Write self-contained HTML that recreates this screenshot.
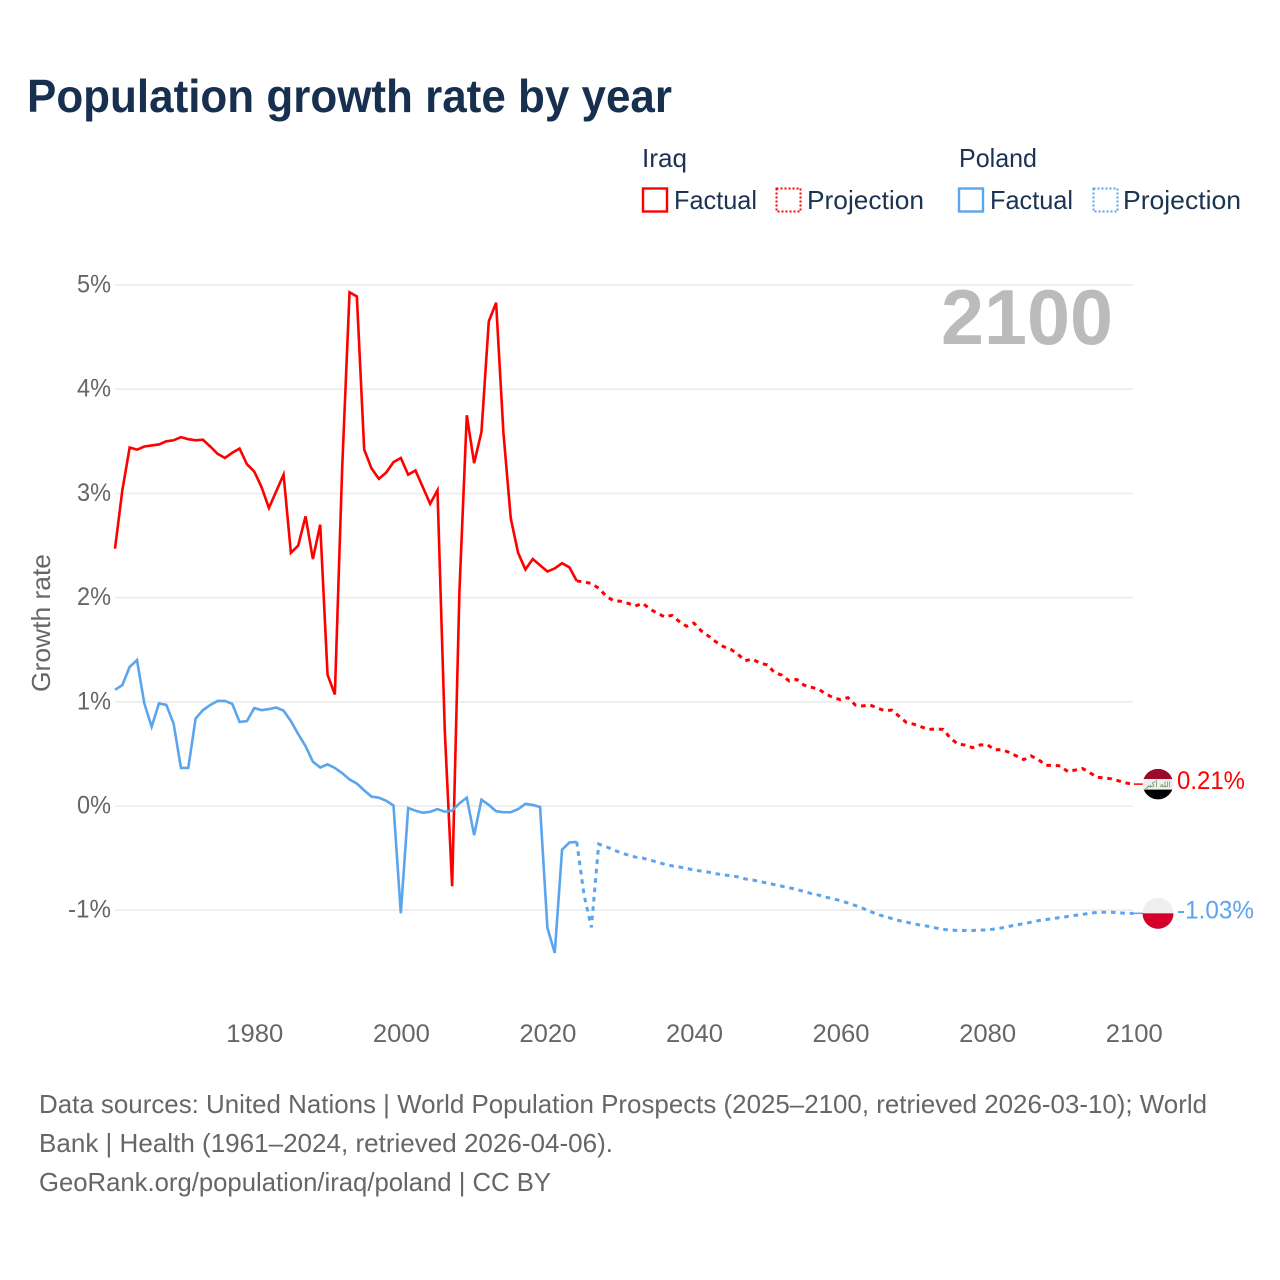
<!DOCTYPE html>
<html lang="en">
<head>
<meta charset="utf-8">
<title>Population growth rate by year</title>
<style>
html,body{margin:0;padding:0;background:#fff;}
svg{display:block;}
text{font-family:"Liberation Sans",sans-serif;}
</style>
</head>
<body>
<svg id="chart" xmlns="http://www.w3.org/2000/svg" width="1280" height="1280" viewBox="0 0 1280 1280">
  <rect x="0" y="0" width="1280" height="1280" fill="#ffffff"/>
  <text x="27" y="112" font-size="46" font-weight="700" fill="#17304f" textLength="645" lengthAdjust="spacingAndGlyphs">Population growth rate by year</text>

  <g font-size="26" fill="#1b3352">
    <text x="642" y="167" textLength="45" lengthAdjust="spacingAndGlyphs">Iraq</text>
    <text x="959" y="167" textLength="78" lengthAdjust="spacingAndGlyphs">Poland</text>
    <g>
      <rect x="643" y="188.5" width="24" height="23" fill="none" stroke="#ff0000" stroke-width="2.4"/>
      <text x="674" y="209" textLength="83" lengthAdjust="spacingAndGlyphs">Factual</text>
    </g>
    <g>
      <rect x="776.5" y="188.5" width="24" height="23" fill="none" stroke="#ff0000" stroke-width="2" stroke-dasharray="2 2"/>
      <text x="807" y="209" textLength="117" lengthAdjust="spacingAndGlyphs">Projection</text>
    </g>
    <g>
      <rect x="959" y="188.5" width="24" height="23" fill="none" stroke="#5ba4ee" stroke-width="2.4"/>
      <text x="990" y="209" textLength="83" lengthAdjust="spacingAndGlyphs">Factual</text>
    </g>
    <g>
      <rect x="1093.5" y="188.5" width="24" height="23" fill="none" stroke="#5ba4ee" stroke-width="2" stroke-dasharray="2 2"/>
      <text x="1123" y="209" textLength="118" lengthAdjust="spacingAndGlyphs">Projection</text>
    </g>
  </g>

  <text transform="translate(50,692) rotate(-90)" font-size="26" fill="#666666" textLength="138" lengthAdjust="spacingAndGlyphs">Growth rate</text>

  <g id="grid"></g>
  <g id="yticks"></g>
  <g id="xticks"></g>

  <text x="1113" y="344" text-anchor="end" font-size="78" font-weight="700" fill="#bbbbbb" textLength="172" lengthAdjust="spacingAndGlyphs">2100</text>

  <g id="series"></g>
  <g id="ends"></g>

  <g font-size="26" fill="#666666">
    <text x="39" y="1113" textLength="1168" lengthAdjust="spacingAndGlyphs">Data sources: United Nations | World Population Prospects (2025–2100, retrieved 2026-03-10); World</text>
    <text x="39" y="1152" textLength="574" lengthAdjust="spacingAndGlyphs">Bank | Health (1961–2024, retrieved 2026-04-06).</text>
    <text x="39" y="1191" textLength="512" lengthAdjust="spacingAndGlyphs">GeoRank.org/population/iraq/poland | CC BY</text>
  </g>
</svg>
<script>
const xTickYears = [1980, 2000, 2020, 2040, 2060, 2080, 2100];
const yTickValues = [5, 4, 3, 2, 1, 0, -1];
const factualStartYear = 1961;
const projectionStartYear = 2024;

const iraqFactual = [2.47,3.03,3.44,3.42,3.45,3.46,3.47,3.50,3.51,3.54,3.52,3.51,3.515,3.45,3.38,3.34,3.39,3.43,3.28,3.21,
  3.06,2.86,3.02,3.18,2.43,2.50,2.78,2.37,2.70,1.26,1.07,3.25,4.93,4.89,3.42,3.24,3.14,3.20,3.30,3.34,
  3.18,3.22,3.06,2.90,3.03,0.72,-0.77,2.07,3.75,3.29,3.59,4.65,4.83,3.58,2.76,2.43,2.27,2.37,2.31,2.25,
  2.28,2.33,2.29,2.16];
const iraqProjection = [2.16,2.15,2.135,2.09,2.015,1.97,1.965,1.945,1.92,1.945,1.89,1.85,1.815,1.83,1.77,1.725,1.755,1.68,1.63,1.575,
  1.53,1.505,1.455,1.395,1.41,1.37,1.355,1.28,1.255,1.20,1.215,1.16,1.14,1.12,1.075,1.04,1.02,1.04,0.97,0.96,
  0.97,0.94,0.915,0.92,0.86,0.80,0.785,0.76,0.735,0.74,0.735,0.65,0.595,0.585,0.56,0.585,0.59,0.54,0.54,0.515,
  0.48,0.445,0.48,0.445,0.39,0.39,0.385,0.33,0.345,0.36,0.32,0.275,0.27,0.26,0.24,0.22,0.21];

const polandFactual = [1.115,1.16,1.335,1.40,0.985,0.76,0.985,0.97,0.79,0.365,0.365,0.84,0.92,0.97,1.008,1.008,0.98,0.806,0.815,0.94,
  0.92,0.93,0.945,0.915,0.815,0.69,0.575,0.425,0.37,0.40,0.365,0.315,0.255,0.215,0.15,0.09,0.08,0.05,0.005,-1.03,
  -0.02,-0.045,-0.065,-0.055,-0.03,-0.055,-0.045,0.025,0.08,-0.28,0.06,0.01,-0.05,-0.06,-0.06,-0.03,0.02,0.01,-0.01,-1.17,
  -1.41,-0.42,-0.35,-0.345];
const polandProjection = [-0.345,-0.855,-1.165,-0.365,-0.39,-0.42,-0.45,-0.47,-0.49,-0.50,-0.52,-0.537,-0.56,-0.575,-0.585,-0.60,-0.614,-0.625,-0.635,-0.65,
  -0.66,-0.67,-0.68,-0.70,-0.71,-0.725,-0.74,-0.755,-0.77,-0.785,-0.80,-0.82,-0.84,-0.855,-0.875,-0.89,-0.91,-0.93,-0.955,-0.98,
  -1.01,-1.04,-1.06,-1.08,-1.10,-1.115,-1.13,-1.145,-1.155,-1.17,-1.185,-1.19,-1.195,-1.195,-1.195,-1.19,-1.19,-1.18,-1.17,-1.155,
  -1.14,-1.13,-1.115,-1.10,-1.09,-1.08,-1.07,-1.06,-1.05,-1.04,-1.03,-1.02,-1.02,-1.02,-1.025,-1.03,-1.03];

const NS = 'http://www.w3.org/2000/svg';
const RED = '#ff0000';
const BLUE = '#5ba4ee';

function xScale(year) { return 115 + (year - 1961) * 7.329; }
function yScale(value) { return 806 - value * 104.2; }
function make(tag, props, parent) {
  const el = document.createElementNS(NS, tag);
  for (const k in props) el.setAttribute(k, props[k]);
  parent.appendChild(el);
  return el;
}
function pathFrom(values, startYear) {
  return values.map(function (v, i) {
    return (i ? 'L' : 'M') + xScale(startYear + i).toFixed(2) + ' ' + yScale(v).toFixed(2);
  }).join(' ');
}

const gridGroup = document.getElementById('grid');
const yTickGroup = document.getElementById('yticks');
const xTickGroup = document.getElementById('xticks');
const seriesGroup = document.getElementById('series');
const endsGroup = document.getElementById('ends');

yTickValues.forEach(function (v) {
  const line = make('line', {x1: 115, x2: 1133, y1: yScale(v), y2: yScale(v), stroke: '#ebebeb', 'stroke-width': 1.6}, gridGroup);
  
  
  const label = make('text', {x: 111, y: yScale(v) + 7.5, 'text-anchor': 'end', 'font-size': 25, fill: '#666666', textLength: v < 0 ? 43 : 34, lengthAdjust: 'spacingAndGlyphs'}, yTickGroup);
  
  
  label.textContent = v + '%';
});

xTickYears.forEach(function (year) {
  const label = make('text', {x: xScale(year) + 0.5, y: 1042, 'text-anchor': 'middle', 'font-size': 25, fill: '#666666', textLength: 57, lengthAdjust: 'spacingAndGlyphs'}, xTickGroup);
  
  
  label.textContent = String(year);
});

const iraqFactualLine = make('path', {d: pathFrom(iraqFactual, factualStartYear), fill: 'none', stroke: RED, 'stroke-width': 2.6, 'stroke-linejoin': 'miter', 'stroke-miterlimit': 4}, seriesGroup);



const polandFactualLine = make('path', {d: pathFrom(polandFactual, factualStartYear), fill: 'none', stroke: BLUE, 'stroke-width': 2.6, 'stroke-linejoin': 'miter', 'stroke-miterlimit': 4}, seriesGroup);



const iraqProjectionLine = make('path', {d: pathFrom(iraqProjection, projectionStartYear), fill: 'none', stroke: RED, 'stroke-width': 3, 'stroke-dasharray': '4.6 4.8'}, seriesGroup);



const polandProjectionLine = make('path', {d: pathFrom(polandProjection, projectionStartYear), fill: 'none', stroke: BLUE, 'stroke-width': 3, 'stroke-dasharray': '4.6 4.8'}, seriesGroup);



/* End markers */
const iraqLast = iraqProjection[iraqProjection.length - 1];
const polandLast = polandProjection[polandProjection.length - 1];
const iraqY = yScale(iraqLast);
const polandY = yScale(polandLast);
const flagX = 1158;

const defs = make('defs', {}, endsGroup);
const clipIraq = make('clipPath', {id: 'clip-iraq'}, defs);
make('circle', {cx: flagX, cy: iraqY, r: 15.3}, clipIraq);
const clipPoland = make('clipPath', {id: 'clip-poland'}, defs);
make('circle', {cx: flagX, cy: polandY, r: 15.5}, clipPoland);

const iraqConnector = make('line', {x1: xScale(2100), x2: flagX - 14, y1: iraqY, y2: iraqY, stroke: RED, 'stroke-width': 1.5}, endsGroup);


const polandConnector = make('line', {x1: xScale(2100), x2: flagX - 14, y1: polandY, y2: polandY, stroke: BLUE, 'stroke-width': 1.5}, endsGroup);



const iraqFlag = make('g', {'clip-path': 'url(#clip-iraq)'}, endsGroup);


make('rect', {x: flagX - 16, y: iraqY - 16, width: 32, height: 11, fill: '#9b0a2b'}, iraqFlag);
make('rect', {x: flagX - 16, y: iraqY - 5, width: 32, height: 10.5, fill: '#eeeeee'}, iraqFlag);
make('rect', {x: flagX - 16, y: iraqY + 5.5, width: 32, height: 11, fill: '#000000'}, iraqFlag);
const iraqEmblem = make('text', {x: flagX, y: iraqY + 2.8, 'text-anchor': 'middle', 'font-size': 7.5, fill: '#5f8a4c', style: 'font-family:"DejaVu Sans",sans-serif'}, iraqFlag);


iraqEmblem.textContent = 'الله أكبر';

const polandFlag = make('g', {'clip-path': 'url(#clip-poland)'}, endsGroup);


make('rect', {x: flagX - 16, y: polandY - 16, width: 32, height: 16, fill: '#eeeeee'}, polandFlag);
make('rect', {x: flagX - 16, y: polandY, width: 32, height: 16, fill: '#d4002a'}, polandFlag);

const iraqValue = make('text', {x: 1177, y: iraqY + 5, 'font-size': 25, fill: RED, textLength: 68, lengthAdjust: 'spacingAndGlyphs'}, endsGroup);


iraqValue.textContent = iraqLast.toFixed(2) + '%';

const polandValue = make('text', {x: 1177, y: polandY + 5, 'font-size': 25, fill: BLUE, textLength: 77, lengthAdjust: 'spacingAndGlyphs'}, endsGroup);


polandValue.textContent = polandLast.toFixed(2) + '%';
</script>
</body>
</html>
